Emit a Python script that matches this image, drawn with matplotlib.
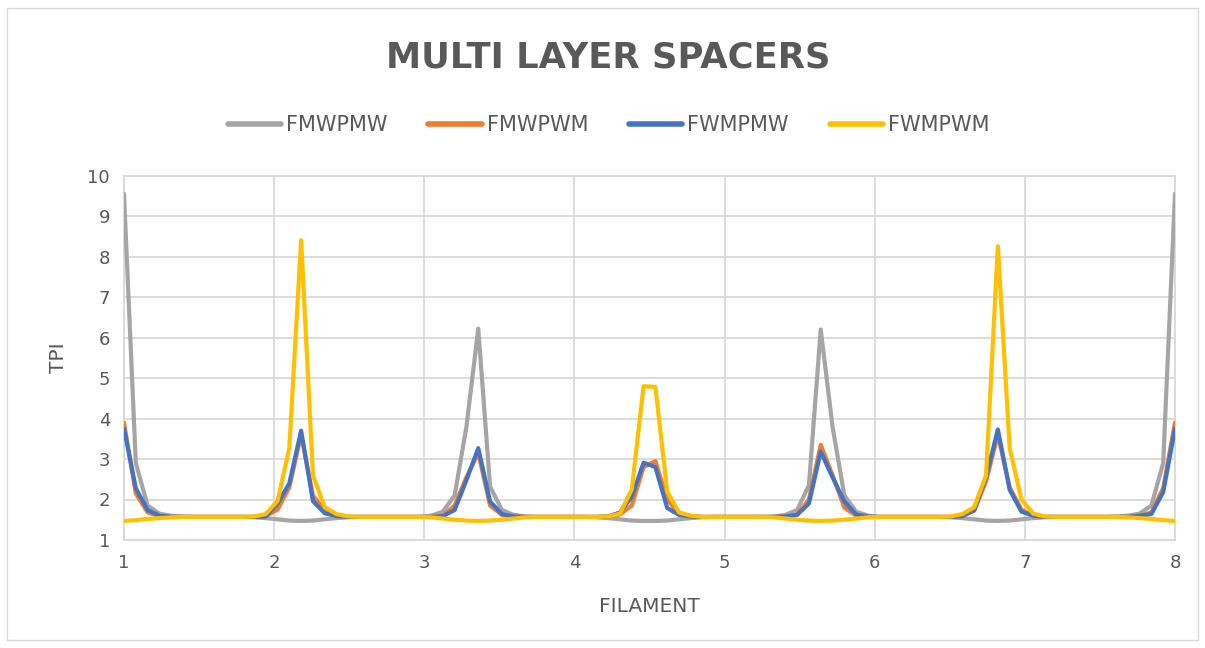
import numpy as np
import matplotlib
matplotlib.use("Agg")
import matplotlib.pyplot as plt
from matplotlib.patches import Rectangle

# Filament positions: 90 evenly spaced samples from 1 to 8
x_start, x_end, n_points = 1, 8, 90

fmwpmw = [
    9.55, 2.90, 1.85, 1.65, 1.60, 1.58, 1.57, 1.57, 1.57, 1.57,
    1.57, 1.56, 1.54, 1.51, 1.48, 1.47, 1.48, 1.51, 1.54, 1.56,
    1.57, 1.57, 1.57, 1.57, 1.57, 1.57, 1.60, 1.70, 2.10, 3.80,
    6.22, 2.32, 1.74, 1.62, 1.58, 1.57, 1.57, 1.57, 1.57, 1.57,
    1.56, 1.54, 1.51, 1.48, 1.47, 1.47, 1.48, 1.51, 1.54, 1.56,
    1.57, 1.57, 1.57, 1.57, 1.57, 1.58, 1.62, 1.74, 2.35, 6.20,
    3.80, 2.10, 1.70, 1.60, 1.57, 1.57, 1.57, 1.57, 1.57, 1.57,
    1.56, 1.54, 1.51, 1.48, 1.47, 1.48, 1.51, 1.54, 1.56, 1.57,
    1.57, 1.57, 1.57, 1.57, 1.58, 1.60, 1.65, 1.85, 2.90, 9.55,
]

fmwpwm = [
    3.90, 2.15, 1.68, 1.59, 1.57, 1.57, 1.57, 1.57, 1.57, 1.57,
    1.57, 1.57, 1.59, 1.75, 2.30, 3.60, 2.10, 1.72, 1.60, 1.57,
    1.57, 1.57, 1.57, 1.57, 1.57, 1.57, 1.57, 1.60, 1.85, 2.55,
    3.15, 1.85, 1.62, 1.58, 1.57, 1.57, 1.57, 1.57, 1.57, 1.57,
    1.57, 1.58, 1.63, 1.85, 2.80, 2.95, 2.00, 1.65, 1.58, 1.57,
    1.57, 1.57, 1.57, 1.57, 1.57, 1.57, 1.58, 1.62, 2.00, 3.35,
    2.60, 1.80, 1.60, 1.57, 1.57, 1.57, 1.57, 1.57, 1.57, 1.57,
    1.57, 1.60, 1.72, 2.45, 3.60, 2.30, 1.75, 1.60, 1.57, 1.57,
    1.57, 1.57, 1.57, 1.57, 1.57, 1.57, 1.59, 1.68, 2.28, 3.90,
]

fwmpmw = [
    3.75, 2.28, 1.74, 1.60, 1.57, 1.57, 1.57, 1.57, 1.57, 1.57,
    1.57, 1.57, 1.58, 1.90, 2.40, 3.70, 1.96, 1.66, 1.59, 1.57,
    1.57, 1.57, 1.57, 1.57, 1.57, 1.57, 1.57, 1.59, 1.74, 2.48,
    3.27, 1.95, 1.64, 1.58, 1.57, 1.57, 1.57, 1.57, 1.57, 1.57,
    1.57, 1.58, 1.68, 2.07, 2.91, 2.80, 1.79, 1.62, 1.58, 1.57,
    1.57, 1.57, 1.57, 1.57, 1.57, 1.57, 1.58, 1.62, 1.90, 3.18,
    2.55, 1.95, 1.63, 1.58, 1.57, 1.57, 1.57, 1.57, 1.57, 1.57,
    1.57, 1.59, 1.74, 2.55, 3.73, 2.24, 1.70, 1.60, 1.57, 1.57,
    1.57, 1.57, 1.57, 1.57, 1.57, 1.57, 1.60, 1.64, 2.18, 3.75,
]

fwmpwm = [
    1.47, 1.49, 1.52, 1.54, 1.56, 1.57, 1.57, 1.57, 1.57, 1.57,
    1.57, 1.58, 1.64, 1.96, 3.27, 8.41, 2.60, 1.81, 1.64, 1.58,
    1.57, 1.57, 1.57, 1.57, 1.57, 1.57, 1.56, 1.53, 1.50, 1.48,
    1.47, 1.48, 1.50, 1.53, 1.56, 1.57, 1.57, 1.57, 1.57, 1.57,
    1.57, 1.58, 1.65, 2.25, 4.80, 4.78, 2.20, 1.68, 1.60, 1.57,
    1.57, 1.57, 1.57, 1.57, 1.57, 1.56, 1.53, 1.50, 1.48, 1.47,
    1.48, 1.50, 1.53, 1.56, 1.57, 1.57, 1.57, 1.57, 1.57, 1.57,
    1.58, 1.64, 1.81, 2.60, 8.26, 3.27, 2.00, 1.65, 1.58, 1.57,
    1.57, 1.57, 1.57, 1.57, 1.57, 1.56, 1.54, 1.52, 1.49, 1.47,
]

series_names = ["FMWPMW", "FMWPWM", "FWMPMW", "FWMPWM"]
series_colors = ["#a5a5a5", "#ed7d31", "#4472c4", "#ffc000"]
x_ticks = [1, 2, 3, 4, 5, 6, 7, 8]
y_ticks = [1, 2, 3, 4, 5, 6, 7, 8, 9, 10]

text_color = "#595959"
grid_color = "#d9d9d9"

fig = plt.figure(figsize=(12.05, 6.48), dpi=100)
fig.patch.set_facecolor("white")
fig.patches.append(Rectangle((0.006, 0.012), 0.988, 0.976, transform=fig.transFigure,
                             fill=False, edgecolor="#d9d9d9", linewidth=1.0))

ax = fig.add_axes([0.1029, 0.1667, 0.8722, 0.5622])
xs = np.linspace(x_start, x_end, n_points)
for vals, name, col in zip([fmwpmw, fmwpwm, fwmpmw, fwmpwm], series_names, series_colors):
    ax.plot(xs, vals, color=col, linewidth=3.0, label=name,
            solid_joinstyle="round", solid_capstyle="round", zorder=3)

ax.set_xlim(x_start, x_end)
ax.set_ylim(1, 10)
ax.set_xticks(x_ticks)
ax.set_yticks(y_ticks)
ax.tick_params(length=0, labelsize=13, colors=text_color, pad=10)
ax.grid(True, color=grid_color, linewidth=1.3, zorder=0)
for sp in ax.spines.values():
    sp.set_color(grid_color)
    sp.set_linewidth(1.3)

ax.set_xlabel("FILAMENT", fontsize=14.5, color=text_color, labelpad=18)
ax.set_ylabel("TPI", fontsize=14.5, color=text_color, labelpad=14)

fig.text(0.505, 0.912, "MULTI LAYER SPACERS", ha="center", va="center",
         fontsize=25.5, fontweight="bold", color=text_color)

leg = fig.legend(loc="center", bbox_to_anchor=(0.505, 0.807), ncol=4, frameon=False,
                 fontsize=15, handlelength=2.55, handletextpad=0.24, columnspacing=1.97)
for t in leg.get_texts():
    t.set_color(text_color)
for h in leg.get_lines():
    h.set_linewidth(4.0)

fig.savefig("out.png", dpi=100, facecolor="white")
